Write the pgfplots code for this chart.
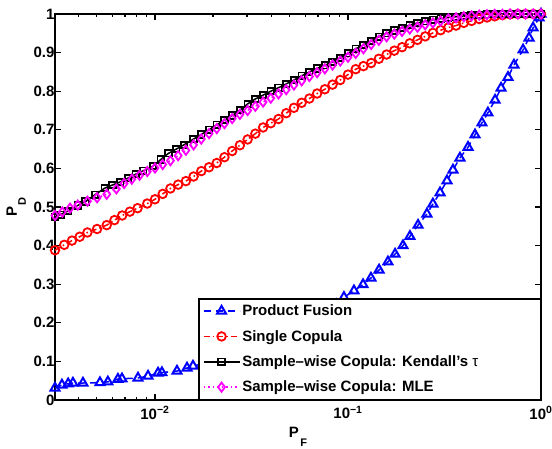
\documentclass[border=0pt]{standalone}
\usepackage{fontspec}
\setmainfont{Liberation Sans}
\usepackage{pgfplots}
\usepackage{pgfplotstable}
\pgfplotsset{compat=1.18}

% ROC curves: first column is log10(P_F), second is P_D
\pgfplotstableread{
u y
-2.518 0.031
-2.482 0.039
-2.450 0.042
-2.425 0.044
-2.373 0.044
-2.285 0.045
-2.244 0.047
-2.192 0.054
-2.171 0.055
-2.088 0.057
-2.036 0.062
-1.984 0.070
-1.964 0.071
-1.886 0.075
-1.834 0.083
-1.803 0.088
-1.750 0.094
-1.700 0.100
-1.650 0.107
-1.600 0.114
-1.550 0.122
-1.500 0.130
-1.450 0.139
-1.400 0.149
-1.350 0.160
-1.300 0.172
-1.250 0.185
-1.200 0.199
-1.150 0.214
-1.100 0.231
-1.060 0.247
-1.021 0.266
-0.969 0.283
-0.922 0.299
-0.881 0.316
-0.839 0.337
-0.793 0.358
-0.756 0.378
-0.715 0.400
-0.679 0.424
-0.637 0.453
-0.591 0.482
-0.560 0.508
-0.523 0.537
-0.487 0.568
-0.456 0.596
-0.420 0.627
-0.378 0.655
-0.342 0.687
-0.306 0.718
-0.275 0.744
-0.238 0.777
-0.207 0.808
-0.171 0.836
-0.140 0.868
-0.093 0.907
-0.062 0.938
-0.041 0.964
-0.010 0.990
0.000 1.000
}\product

\pgfplotstableread{
u y
-2.518 0.388
-2.47 0.402
-2.43 0.413
-2.39 0.423
-2.35 0.434
-2.30 0.443
-2.25 0.453
-2.21 0.466
-2.17 0.478
-2.13 0.488
-2.09 0.497
-2.04 0.509
-2.00 0.520
-1.96 0.534
-1.92 0.548
-1.88 0.558
-1.84 0.567
-1.80 0.579
-1.76 0.593
-1.72 0.603
-1.68 0.614
-1.64 0.629
-1.60 0.645
-1.56 0.660
-1.52 0.675
-1.48 0.690
-1.44 0.706
-1.40 0.717
-1.36 0.728
-1.32 0.743
-1.28 0.757
-1.24 0.770
-1.20 0.781
-1.16 0.794
-1.12 0.805
-1.08 0.817
-1.04 0.829
-1.00 0.843
-0.96 0.857
-0.92 0.865
-0.88 0.873
-0.84 0.884
-0.80 0.895
-0.76 0.905
-0.72 0.914
-0.68 0.924
-0.64 0.933
-0.60 0.942
-0.56 0.951
-0.52 0.958
-0.48 0.965
-0.44 0.970
-0.40 0.977
-0.36 0.982
-0.32 0.987
-0.28 0.991
-0.24 0.994
-0.20 0.997
-0.16 0.999
-0.12 1.000
-0.08 1.000
-0.04 1.000
0.00 1.000
}\single

\pgfplotstableread{
u y
-2.518 0.474
-2.49 0.480
-2.45 0.490
-2.40 0.504
-2.36 0.514
-2.31 0.532
-2.26 0.549
-2.22 0.557
-2.18 0.565
-2.14 0.575
-2.10 0.585
-2.06 0.594
-2.01 0.606
-1.97 0.623
-1.93 0.639
-1.89 0.650
-1.85 0.661
-1.80 0.676
-1.76 0.688
-1.72 0.700
-1.68 0.713
-1.64 0.725
-1.60 0.737
-1.56 0.751
-1.52 0.767
-1.48 0.780
-1.44 0.790
-1.40 0.800
-1.36 0.809
-1.32 0.819
-1.28 0.829
-1.24 0.840
-1.20 0.850
-1.16 0.859
-1.12 0.867
-1.08 0.876
-1.04 0.886
-1.00 0.898
-0.96 0.910
-0.92 0.920
-0.88 0.930
-0.84 0.941
-0.80 0.950
-0.76 0.957
-0.72 0.964
-0.68 0.971
-0.64 0.977
-0.60 0.981
-0.56 0.985
-0.52 0.988
-0.48 0.991
-0.44 0.993
-0.40 0.995
-0.36 0.997
-0.32 0.998
-0.28 0.999
-0.24 0.999
-0.20 1.000
-0.16 1.000
-0.12 1.000
-0.08 1.000
-0.04 1.000
0.00 1.000
}\kendall

\pgfplotstableread{
u y
-2.518 0.478
-2.48 0.487
-2.44 0.497
-2.40 0.505
-2.35 0.515
-2.30 0.524
-2.25 0.533
-2.20 0.547
-2.16 0.561
-2.12 0.572
-2.08 0.582
-2.04 0.592
-2.00 0.601
-1.96 0.610
-1.92 0.620
-1.88 0.633
-1.84 0.647
-1.80 0.661
-1.76 0.676
-1.72 0.690
-1.68 0.703
-1.64 0.716
-1.60 0.729
-1.56 0.740
-1.52 0.750
-1.48 0.761
-1.44 0.772
-1.40 0.782
-1.36 0.793
-1.32 0.804
-1.28 0.816
-1.24 0.827
-1.20 0.838
-1.16 0.848
-1.12 0.858
-1.08 0.868
-1.04 0.878
-1.00 0.888
-0.96 0.898
-0.92 0.910
-0.88 0.921
-0.84 0.932
-0.80 0.941
-0.76 0.948
-0.72 0.955
-0.68 0.961
-0.64 0.966
-0.60 0.972
-0.56 0.977
-0.52 0.982
-0.48 0.987
-0.44 0.990
-0.40 0.993
-0.36 0.995
-0.32 0.997
-0.28 0.998
-0.24 0.999
-0.20 0.999
-0.16 1.000
-0.12 1.000
-0.08 1.000
-0.04 1.000
0.00 1.000
}\mle

\definecolor{mblue}{rgb}{0,0,1}
\definecolor{mred}{rgb}{1,0,0}
\definecolor{mmag}{rgb}{1,0,1}

% lowered subscript, as in the axis labels P_F and P_D
\newcommand{\lowsub}[1]{\hspace{1.5bp}\raisebox{-9bp}{\fontsize{11bp}{11bp}\selectfont #1}}

\begin{document}
\begin{tikzpicture}
\begin{axis}[
  scale only axis,
  width=486bp, height=386bp,
  xmin=-2.518, xmax=0, ymin=0, ymax=1,
  clip=false,
  font=\bfseries\fontsize{15bp}{18bp}\selectfont,
  xtick={-2,-1,0},
  xticklabels={10\textsuperscript{−2},10\textsuperscript{−1},10\textsuperscript{0}},
  xticklabel style={yshift=-3bp},
  yticklabel style={xshift=3bp},
  minor xtick={-2.398,-2.301,-2.222,-2.155,-2.097,-2.046,
               -1.699,-1.523,-1.398,-1.301,-1.222,-1.155,-1.097,-1.046,
               -0.699,-0.523,-0.398,-0.301,-0.222,-0.155,-0.097,-0.046},
  ytick={0,0.1,0.2,0.3,0.4,0.5,0.6,0.7,0.8,0.9,1},
  yticklabels={0,0.1,0.2,0.3,0.4,0.5,0.6,0.7,0.8,0.9,1},
  tick align=inside,
  major tick length=6bp, minor tick length=3.5bp,
  every tick/.style={black, line width=1.2bp},
  axis line style={line width=1.8bp},
  xlabel={P\lowsub{F}},
  ylabel={P\lowsub{D}},
  xlabel shift=1bp,
  ylabel shift=1bp,
  legend cell align=left,
  legend style={at={(1,0)}, anchor=south east, draw=black, line width=1.4bp,
    fill=white, font=\bfseries\fontsize{15bp}{18bp}\selectfont,
    row sep=9bp, inner sep=4bp},
  legend image code/.code={%
    \draw[mark repeat=2,mark phase=2,#1]
      plot coordinates {(0bp,0bp) (18bp,0bp) (36bp,0bp)};},
]
\addplot[mblue, line width=1.5bp, dash pattern=on 7bp off 5bp,
  mark=triangle, mark size=5.2bp, mark options={solid, line width=2bp}]
  table[x=u, y=y] {\product};
\addlegendentry{\makebox[292bp][l]{Product Fusion}}

\addplot[mred, line width=1.5bp, dash pattern=on 6bp off 3bp on 1.5bp off 3bp,
  mark=o, mark size=4.3bp, mark options={solid, line width=1.8bp}]
  table[x=u, y=y] {\single};
\addlegendentry{Single Copula}

\addplot[black, line width=1.5bp, solid,
  mark=square, mark size=3.2bp, mark options={solid, line width=1.8bp}]
  table[x=u, y=y] {\kendall};
\addlegendentry{Sample–wise Copula: Kendall’s {\mdseries τ}}

\addplot[mmag, line width=1.5bp, dash pattern=on 1.5bp off 3bp,
  mark=diamond, mark size=4.6bp, mark options={solid, line width=1.8bp}]
  table[x=u, y=y] {\mle};
\addlegendentry{Sample–wise Copula: MLE}
\end{axis}
\pgfresetboundingbox
\path[use as bounding box]
  ([xshift=-55bp,yshift=-49bp]current axis.south west)
  rectangle ([xshift=11bp,yshift=14bp]current axis.north east);
\end{tikzpicture}
\end{document}
